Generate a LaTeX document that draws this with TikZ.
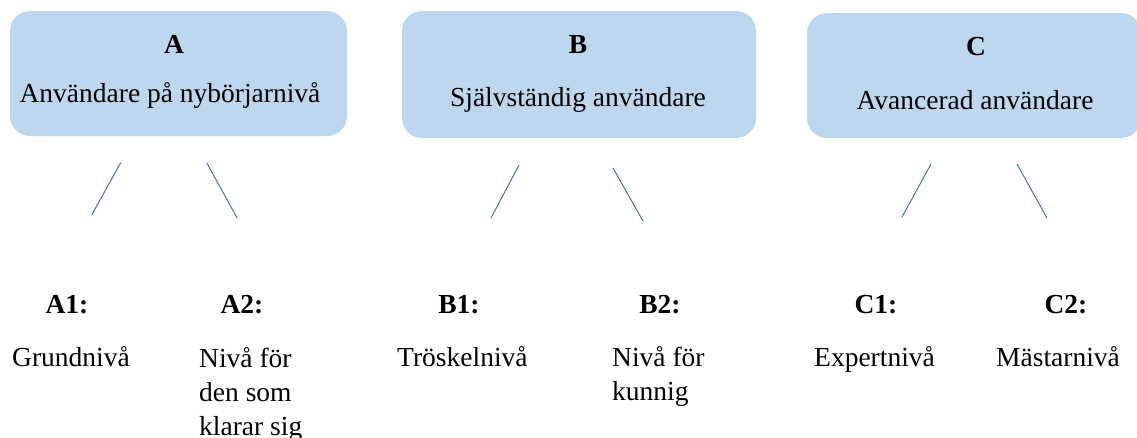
\documentclass[tikz,border=0pt]{standalone}
\usepackage{fontspec}
\setmainfont{Liberation Serif}
\definecolor{bleuclair}{HTML}{BDD7EE}
\definecolor{bleutrait}{HTML}{4472C4}
\begin{document}
\begin{tikzpicture}[x=1pt,y=-1pt]
\tikzset{niveau/.style={fill=bleuclair, rounded corners=20pt, inner sep=0pt, minimum height=125pt}}
\tikzset{texte/.style={font=\fontsize{27.5}{34}\selectfont, inner sep=0pt, anchor=base}}
\tikzset{titre/.style={texte, font=\fontsize{27.5}{34}\selectfont\bfseries}}
\tikzset{trait/.style={draw=bleutrait, line width=1pt}}
\useasboundingbox (0,0) rectangle (1137,437);
\clip (0,0) rectangle (1137,437);
\node[niveau, minimum width=337pt] (NA) at (178.5,73.5) {};
\node[niveau, minimum width=354pt, minimum height=127pt] (NB) at (579,74.5) {};
\node[niveau, minimum width=334pt] (NC) at (974,75.5) {};
\node[titre] (tA) at (174,53) {A};
\node[texte] (sA) at (170,102) {Användare på nybörjarnivå};
\node[titre] (tB) at (578,53) {B};
\node[texte] (sB) at (578,106) {Självständig användare};
\node[titre] (tC) at (976,55) {C};
\node[texte] (sC) at (975,109) {Avancerad användare};
\coordinate (a1h) at (120.7,162.7);
\coordinate (a1b) at (91.7,215);
\coordinate (a2h) at (206.7,162.7);
\coordinate (a2b) at (237.3,218.3);
\coordinate (b1h) at (519,165);
\coordinate (b1b) at (491,218);
\coordinate (b2h) at (613,168);
\coordinate (b2b) at (643,221);
\coordinate (c1h) at (931,164);
\coordinate (c1b) at (902,217);
\coordinate (c2h) at (1017,164);
\coordinate (c2b) at (1047,218);
\draw[trait] (a1h) -- (a1b);
\draw[trait] (a2h) -- (a2b);
\draw[trait] (b1h) -- (b1b);
\draw[trait] (b2h) -- (b2b);
\draw[trait] (c1h) -- (c1b);
\draw[trait] (c2h) -- (c2b);
\node[titre] (A1) at (67,313) {A1:};
\node[titre] (A2) at (242,313) {A2:};
\node[titre] (B1) at (459,313) {B1:};
\node[titre] (B2) at (660,313) {B2:};
\node[titre] (C1) at (876,313) {C1:};
\node[titre] (C2) at (1066,313) {C2:};
\node[texte, anchor=base west] (dA1) at (12,366) {Grundnivå};
% ancre base = ligne du bas
\node[texte, anchor=base west, align=left] (dA2) at (199,435) {Nivå för\\den som\\klarar sig};
\node[texte, anchor=base west] (dB1) at (397,366) {Tröskelnivå};
\node[texte, anchor=base west, align=left] (dB2) at (612,400) {Nivå för\\kunnig};
\node[texte, anchor=base west] (dC1) at (814,366) {Expertnivå};
\node[texte, anchor=base west] (dC2) at (996,366) {Mästarnivå};
\end{tikzpicture}
\end{document}
